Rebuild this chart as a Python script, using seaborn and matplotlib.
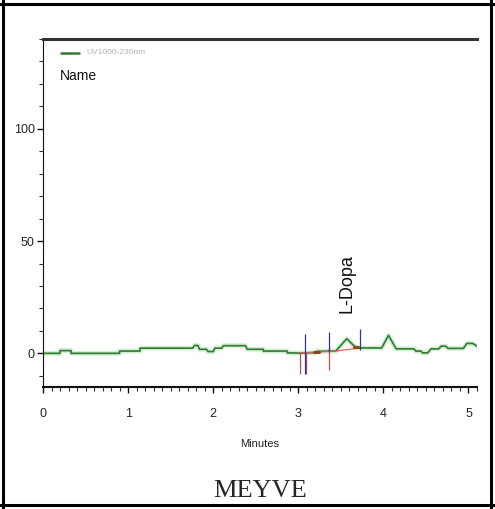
import numpy as np
import pandas as pd
import seaborn as sns
from matplotlib import pyplot as plt
from matplotlib.lines import Line2D
from matplotlib.ticker import MultipleLocator

# chromatogram trace, UV 230 nm (minutes, mAU)
minutes = [0.00, 0.20, 0.20, 0.33, 0.33, 0.90, 0.90, 1.14, 1.14, 1.76,
           1.78, 1.82, 1.84, 1.92, 1.94, 2.00, 2.02, 2.10, 2.12, 2.38,
           2.40, 2.59, 2.59, 2.87, 2.87, 3.02, 3.20, 3.22, 3.44, 3.57,
           3.65, 3.68, 3.73, 3.98, 4.06, 4.15, 4.36, 4.38, 4.44, 4.46,
           4.52, 4.56, 4.65, 4.68, 4.73, 4.76, 4.94, 4.98, 5.05, 5.10]
signal = [0.0, 0.0, 1.2, 1.2, 0.0, 0.0, 1.0, 1.0, 2.3, 2.3,
          3.5, 3.5, 1.8, 1.8, 0.8, 0.8, 2.3, 2.3, 3.4, 3.4,
          1.8, 1.8, 1.0, 1.0, 0.2, 0.1, 0.3, 0.9, 1.0, 6.5,
          3.5, 2.8, 2.4, 2.4, 8.0, 2.0, 2.0, 1.0, 1.0, 0.2,
          0.2, 2.0, 2.0, 3.2, 3.2, 2.2, 2.2, 4.4, 4.4, 3.2]

# integration baseline under the peaks
base_minutes = [3.02, 3.20, 3.44, 3.73]
base_signal = [0.3, 0.5, 1.0, 2.4]

# integration event marks: (minute, low, high)
red_marks = [(3.015, -9.0, 0.6), (3.094, -9.0, 0.6), (3.365, -7.5, 2.8)]
blue_marks = [(3.08, -9.0, 8.7), (3.365, 0.6, 9.5), (3.73, 1.3, 11.0)]

peak_name = "L-Dopa"
peak_time = 3.57
peak_label_y = 18

x_major = [0, 1, 2, 3, 4, 5]
y_major = [0, 50, 100]

sns.set_style("white")
plt.rcParams["font.family"] = ["Liberation Sans", "DejaVu Sans"]

fig = plt.figure(figsize=(4.95, 5.09), dpi=100)
ax = fig.add_axes([43 / 495, 122 / 509, 434 / 495, 348 / 509])

trace = pd.DataFrame({"Minutes": minutes, "mAU": signal})
# soft halo like the scanned trace
sns.lineplot(data=trace, x="Minutes", y="mAU", estimator=None, sort=False,
             color="#a8dca8", linewidth=3.5, alpha=0.5, ax=ax)
sns.lineplot(data=trace, x="Minutes", y="mAU", estimator=None, sort=False,
             color="#2f7a33", linewidth=1.2, ax=ax)
ax.plot(base_minutes, base_signal, color="#e06060", linewidth=0.9)
ax.plot([3.18, 3.24], [0.4, 0.4], color="#8b4a13", linewidth=2.2)
ax.plot([3.66, 3.70], [2.8, 2.8], color="#8b4a13", linewidth=2.2)
for m, lo, hi in red_marks:
    ax.vlines(m, lo, hi, color="#d04848", linewidth=0.9)
for m, lo, hi in blue_marks:
    ax.vlines(m, lo, hi, color="#3030a0", linewidth=0.9)

ax.text(peak_time, peak_label_y, peak_name, rotation=90, ha="center",
        va="bottom", fontsize=13, color="#111111")

ax.set_xlim(0, 5.1)
ax.set_ylim(-15, 140)
ax.set_xticks(x_major)
ax.set_yticks(y_major)
ax.xaxis.set_minor_locator(MultipleLocator(0.1))
ax.yaxis.set_minor_locator(MultipleLocator(10))
ax.tick_params(axis="both", which="major", direction="out", length=4.5,
               width=1, color="#111111", labelsize=9, labelcolor="#222222",
               bottom=True, left=True)
ax.tick_params(axis="x", which="major", pad=10.5)
ax.tick_params(axis="y", which="major", pad=1.5)
ax.tick_params(axis="both", which="minor", direction="out", length=3,
               width=0.8, color="#333333", bottom=True, left=True)
ax.set_xlabel("Minutes", fontsize=8, color="#222222", labelpad=14)
ax.set_ylabel("")

ax.spines["right"].set_visible(False)
ax.spines["top"].set_linewidth(2.2)
ax.spines["top"].set_color("#333333")
ax.spines["bottom"].set_linewidth(1.5)
ax.spines["bottom"].set_color("#111111")
ax.spines["left"].set_linewidth(0.8)
ax.spines["left"].set_color("#111111")

# legend block
ax.plot([0.041, 0.083], [0.960, 0.960], transform=ax.transAxes,
        color="#2f7a33", linewidth=1.8)
ax.text(0.099, 0.960, "UV1000-230nm", transform=ax.transAxes, fontsize=6,
        color="#b0b0b0", va="center")
ax.text(0.040, 0.894, "Name", transform=ax.transAxes, fontsize=10,
        color="#111111", va="center")

# table cell frame around the figure
for x in (3 / 495, 491 / 495):
    fig.add_artist(Line2D([x, x], [0, 1], transform=fig.transFigure,
                          color="black", linewidth=2.2))
for y in (4 / 509, 505 / 509):
    fig.add_artist(Line2D([0, 1], [1 - y, 1 - y], transform=fig.transFigure,
                          color="black", linewidth=2.2))

fig.text(260 / 495, 18 / 509, "MEYVE", ha="center", va="center",
         fontsize=19, family=["Liberation Serif", "DejaVu Serif"])

fig.savefig("out.png", dpi=100)
